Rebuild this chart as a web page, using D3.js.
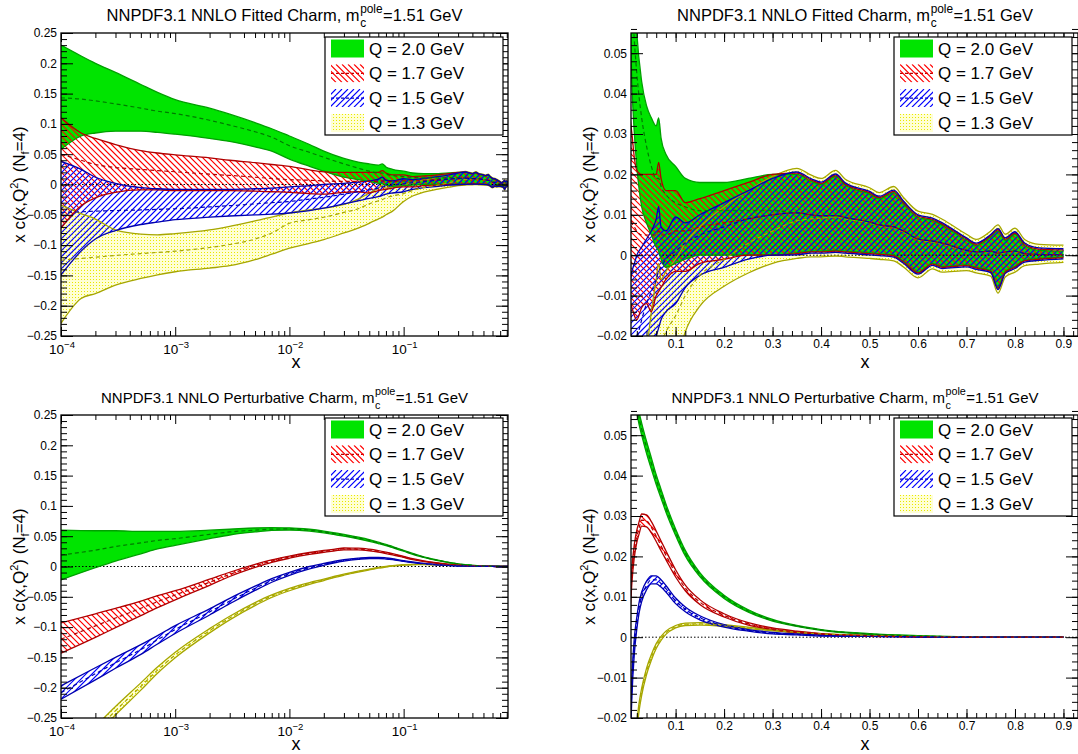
<!DOCTYPE html>
<html><head><meta charset="utf-8">
<script src="https://cdn.jsdelivr.net/npm/d3@7"></script>
<style>body{margin:0;background:#fff}svg text{font-family:"Liberation Sans",Arial,Helvetica,sans-serif;fill:#000}</style>
</head><body><svg id="c" width="1078" height="754"></svg>
<script>
// ---------------- DATA ----------------
const xFit = [1e-4,1.5e-4,2e-4,3e-4,5e-4,7e-4,1e-3,2e-3,3e-3,5e-3,7e-3,0.01,0.015,0.02,0.03,0.04,0.05,0.06,0.065,0.07,0.08,0.1,0.12,0.15,0.2,0.25,0.3,0.35,0.38,0.4,0.43,0.45,0.5,0.52,0.55,0.57,0.6,0.63,0.65,0.7,0.72,0.75,0.765,0.78,0.8,0.82,0.85,0.9];

const fitQ20hi = [0.230,0.212,0.200,0.185,0.165,0.152,0.140,0.126,0.116,0.102,0.092,0.080,0.066,0.055,0.043,0.037,0.034,0.032,0.034,0.029,0.025,0.022,0.019,0.018,0.018,0.019,0.020,0.0200,0.0183,0.0175,0.0195,0.0173,0.0152,0.0140,0.0155,0.0128,0.0094,0.0086,0.0074,0.0037,0.0024,0.0045,0.0060,0.0037,0.0052,0.0024,0.0012,0.0010];
const fitQ20c  = [0.143,0.141,0.138,0.133,0.126,0.121,0.117,0.106,0.098,0.087,0.078,0.064,0.053,0.045,0.034,0.027,0.022,0.019,0.019,0.017,0.015,0.013,0.012,0.011,0.011,0.011,0.011,0.0105,0.0100,0.0098,0.0098,0.0093,0.0082,0.0075,0.0070,0.0060,0.0040,0.0035,0.0030,0.0012,0.0008,0.0010,0.0005,0.0008,0.0010,0.0004,0.0002,0.0001];
const fitQ20lo = [0.058,0.080,0.085,0.088,0.088,0.086,0.083,0.076,0.071,0.062,0.055,0.042,0.030,0.022,0.012,0.008,0.005,0.002,0.001,-0.001,-0.003,-0.002,-0.001,0.000,0.000,0.000,0.000,0.0006,0.0010,0.0010,0.0012,0.0010,0.0006,0.0004,0.0000,-0.0015,-0.0042,-0.0020,-0.0028,-0.0024,-0.0030,-0.0038,-0.0080,-0.0040,-0.0028,-0.0012,-0.0008,-0.0004];

const fitQ17hi = [0.110,0.085,0.076,0.066,0.056,0.052,0.049,0.044,0.040,0.036,0.033,0.030,0.024,0.021,0.020,0.020,0.020,0.020,0.023,0.019,0.016,0.016,0.013,0.014,0.016,0.018,0.020,0.0203,0.0186,0.0178,0.0198,0.0176,0.0155,0.0143,0.0158,0.0131,0.0097,0.0089,0.0077,0.0040,0.0027,0.0048,0.0063,0.0040,0.0055,0.0027,0.0015,0.0013];
const fitQ17c  = [0.050,0.040,0.033,0.028,0.025,0.023,0.021,0.017,0.015,0.012,0.010,0.008,0.007,0.006,0.005,0.005,0.005,0.005,0.006,0.005,0.005,0.006,0.006,0.007,0.008,0.009,0.010,0.0105,0.0100,0.0098,0.0098,0.0093,0.0082,0.0075,0.0070,0.0060,0.0040,0.0035,0.0030,0.0012,0.0008,0.0010,0.0005,0.0008,0.0010,0.0004,0.0002,0.0001];
const fitQ17lo = [-0.072,-0.035,-0.022,-0.013,-0.009,-0.009,-0.010,-0.010,-0.010,-0.011,-0.012,-0.013,-0.015,-0.016,-0.013,-0.012,-0.014,-0.010,-0.009,-0.008,-0.006,-0.004,-0.004,-0.002,-0.001,0.000,0.000,0.0004,0.0008,0.0008,0.0010,0.0008,0.0004,0.0002,-0.0002,-0.0017,-0.0044,-0.0022,-0.0030,-0.0026,-0.0032,-0.0040,-0.0082,-0.0042,-0.0030,-0.0014,-0.0010,-0.0006];

const fitQ15hi = [0.038,0.025,0.012,0.002,-0.005,-0.007,-0.008,-0.008,-0.008,-0.007,-0.006,-0.004,-0.002,0.000,0.002,0.004,0.006,0.009,0.012,0.007,0.006,0.0095,0.008,0.010,0.013,0.016,0.019,0.0206,0.0189,0.0181,0.0201,0.0179,0.0158,0.0146,0.0161,0.0134,0.0100,0.0092,0.0080,0.0043,0.0030,0.0051,0.0066,0.0043,0.0058,0.0030,0.0018,0.0016];
const fitQ15c  = [-0.046,-0.045,-0.044,-0.043,-0.042,-0.041,-0.040,-0.037,-0.035,-0.032,-0.030,-0.028,-0.024,-0.021,-0.016,-0.012,-0.009,-0.006,-0.004,-0.003,-0.001,0.001,0.003,0.005,0.007,0.009,0.010,0.0105,0.0100,0.0098,0.0098,0.0093,0.0082,0.0075,0.0070,0.0060,0.0040,0.0035,0.0030,0.0012,0.0008,0.0010,0.0005,0.0008,0.0010,0.0004,0.0002,0.0001];
const fitQ15lo = [-0.149,-0.110,-0.090,-0.076,-0.066,-0.062,-0.058,-0.054,-0.052,-0.050,-0.049,-0.047,-0.043,-0.039,-0.032,-0.027,-0.023,-0.020,-0.018,-0.016,-0.014,-0.012,-0.008,-0.005,-0.003,-0.001,0.000,0.0001,0.0005,0.0005,0.0007,0.0005,0.0001,-0.0001,-0.0005,-0.0020,-0.0047,-0.0025,-0.0033,-0.0029,-0.0035,-0.0043,-0.0085,-0.0045,-0.0033,-0.0017,-0.0013,-0.0009];

const fitQ13hi = [-0.034,-0.048,-0.057,-0.075,-0.082,-0.083,-0.081,-0.075,-0.069,-0.060,-0.054,-0.047,-0.042,-0.039,-0.033,-0.024,-0.014,-0.006,-0.002,-0.006,-0.004,-0.001,0.003,0.007,0.012,0.016,0.0195,0.0215,0.0198,0.0190,0.0210,0.0188,0.0167,0.0155,0.0170,0.0143,0.0109,0.0101,0.0089,0.0052,0.0039,0.0060,0.0075,0.0052,0.0067,0.0039,0.0027,0.0025];
const fitQ13c  = [-0.125,-0.122,-0.120,-0.117,-0.114,-0.112,-0.110,-0.104,-0.099,-0.090,-0.080,-0.064,-0.058,-0.054,-0.046,-0.040,-0.032,-0.027,-0.025,-0.022,-0.019,-0.015,-0.010,-0.005,-0.001,0.003,0.006,0.0085,0.0090,0.0092,0.0095,0.0090,0.0080,0.0073,0.0068,0.0058,0.0038,0.0033,0.0028,0.0011,0.0007,0.0009,0.0004,0.0007,0.0009,0.0003,0.0002,0.0001];
const fitQ13lo = [-0.229,-0.188,-0.180,-0.166,-0.155,-0.149,-0.144,-0.138,-0.134,-0.124,-0.115,-0.105,-0.097,-0.091,-0.080,-0.072,-0.064,-0.057,-0.054,-0.050,-0.044,-0.028,-0.019,-0.0126,-0.0077,-0.0044,-0.0020,-0.0008,-0.0004,-0.0004,-0.0002,-0.0004,-0.0008,-0.0010,-0.0014,-0.0029,-0.0056,-0.0034,-0.0042,-0.0038,-0.0044,-0.0052,-0.0094,-0.0054,-0.0042,-0.0026,-0.0022,-0.0018];

const xPert = [1e-4,2e-4,3e-4,5e-4,7e-4,1e-3,2e-3,3e-3,5e-3,7e-3,0.01,0.015,0.02,0.025,0.03,0.04,0.05,0.06,0.07,0.08,0.1,0.12,0.15,0.2,0.25,0.3,0.35,0.4,0.5,0.6,0.7,0.8,0.9];

const pertQ20hi = [0.060,0.059,0.059,0.058,0.058,0.058,0.060,0.0615,0.0635,0.064,0.0638,0.0615,0.0585,0.0555,0.053,0.0485,0.0444,0.0402,0.0366,0.033,0.0268,0.0215,0.016,0.0104,0.0068,0.0044,0.0029,0.0019,0.0009,0.0004,0.0001,0.0,0.0];
const pertQ20c  = [0.019,0.027,0.033,0.039,0.043,0.046,0.053,0.057,0.060,0.0617,0.062,0.060,0.057,0.054,0.0515,0.047,0.043,0.039,0.0355,0.032,0.026,0.0208,0.0155,0.010,0.0065,0.0042,0.0028,0.0018,0.0008,0.0003,0.0001,0.0,0.0];
const pertQ20lo = [-0.022,-0.002,0.009,0.021,0.029,0.035,0.046,0.052,0.057,0.0595,0.0602,0.0585,0.0555,0.0525,0.050,0.0455,0.0416,0.0378,0.0344,0.031,0.0252,0.0201,0.015,0.0096,0.0062,0.0040,0.0027,0.0017,0.0007,0.0002,0.0,0.0,0.0];

const pertQ17hi = [-0.093,-0.078,-0.069,-0.057,-0.048,-0.040,-0.021,-0.0095,0.0035,0.011,0.0173,0.0231,0.0265,0.0287,0.0305,0.0303,0.0286,0.0263,0.0238,0.0214,0.0167,0.0129,0.0093,0.0058,0.0036,0.0023,0.0015,0.0009,0.0004,0.0001,0,0,0];
const pertQ17c  = [-0.120,-0.098,-0.085,-0.069,-0.058,-0.047,-0.026,-0.013,0.001,0.009,0.0155,0.0215,0.0250,0.0272,0.0290,0.0288,0.0272,0.0250,0.0226,0.0203,0.0158,0.0122,0.0087,0.0054,0.0033,0.0021,0.0013,0.0008,0.0003,0.0001,0,0,0];
const pertQ17lo = [-0.143,-0.117,-0.101,-0.081,-0.068,-0.055,-0.031,-0.0165,-0.0015,0.007,0.0137,0.0199,0.0235,0.0257,0.0275,0.0273,0.0258,0.0237,0.0214,0.0192,0.0149,0.0115,0.0081,0.0050,0.0030,0.0019,0.0011,0.0007,0.0002,0.0001,0,0,0];

const pertQ15hi = [-0.197,-0.167,-0.150,-0.129,-0.114,-0.0975,-0.070,-0.0525,-0.0325,-0.020,-0.0095,0.0,0.005,0.0088,0.0112,0.0139,0.0152,0.0152,0.0142,0.0128,0.0097,0.0075,0.0053,0.0031,0.0019,0.0012,0.0008,0.0005,0.0002,0.0001,0,0,0];
const pertQ15c  = [-0.208,-0.177,-0.159,-0.137,-0.121,-0.104,-0.075,-0.057,-0.036,-0.023,-0.012,-0.002,0.0035,0.0075,0.0100,0.0128,0.0142,0.0142,0.0133,0.0120,0.0090,0.0069,0.0048,0.0028,0.0017,0.0010,0.0007,0.0004,0.0002,0.0001,0,0,0];
const pertQ15lo = [-0.219,-0.187,-0.168,-0.145,-0.128,-0.1105,-0.080,-0.0615,-0.0395,-0.026,-0.0145,-0.004,0.002,0.0062,0.0088,0.0117,0.0132,0.0132,0.0124,0.0112,0.0083,0.0063,0.0043,0.0025,0.0015,0.0008,0.0006,0.0003,0.0002,0.0001,0,0,0];

const pertQ13hi = [-0.320,-0.264,-0.231,-0.192,-0.166,-0.1415,-0.1025,-0.082,-0.0595,-0.0468,-0.036,-0.0265,-0.0208,-0.016,-0.0126,-0.0077,-0.0043,-0.0016,0.0002,0.0015,0.0029,0.0035,0.0036,0.0031,0.0025,0.0018,0.0013,0.0009,0.0004,0.0002,0.0001,0,0];
const pertQ13c  = [-0.330,-0.272,-0.238,-0.198,-0.171,-0.146,-0.106,-0.085,-0.062,-0.049,-0.038,-0.028,-0.022,-0.017,-0.0135,-0.0085,-0.005,-0.0022,-0.0003,0.0011,0.0026,0.0032,0.0033,0.0029,0.0023,0.0017,0.0012,0.0008,0.0004,0.0002,0.0001,0,0];
const pertQ13lo = [-0.340,-0.280,-0.245,-0.204,-0.176,-0.1505,-0.1095,-0.088,-0.0645,-0.0512,-0.040,-0.0295,-0.0232,-0.018,-0.0144,-0.0093,-0.0057,-0.0028,-0.0008,0.0007,0.0023,0.0029,0.0030,0.0027,0.0021,0.0016,0.0011,0.0007,0.0004,0.0002,0.0001,0,0];

const legendLabels = ["Q = 2.0 GeV","Q = 1.7 GeV","Q = 1.5 GeV","Q = 1.3 GeV"];
const panelTitles = ["Fitted","Fitted","Perturbative","Perturbative"];
const yTicksWide = [-0.25,-0.2,-0.15,-0.1,-0.05,0,0.05,0.1,0.15,0.2,0.25];
const yTicksNarrow = [-0.02,-0.01,0,0.01,0.02,0.03,0.04,0.05];
const xTicksLog = [1e-4,1e-3,1e-2,1e-1];
const xTickLogExp = ["\u22124","\u22123","\u22122","\u22121"];
const xTicksLin = [0.1,0.2,0.3,0.4,0.5,0.6,0.7,0.8,0.9];

// ---------------- STYLE ----------------
const svg = d3.select("#c");
const defs = svg.append("defs");
const pd = defs.append("pattern").attr("id","dots").attr("patternUnits","userSpaceOnUse").attr("width",3).attr("height",3);
pd.append("rect").attr("width",3).attr("height",3).attr("fill","#ffffd4");
pd.append("rect").attr("width",1).attr("height",1).attr("fill","#e8e800");
let clipN = 0;
function hatchPath(x0,y0,x1,y1,step,back){
  const H = y1-y0; let d = "";
  const s0 = Math.floor((x0-H)/step)*step;
  for(let s=s0; s<=x1+H; s+=step){
    d += back ? `M${s},${y0}L${s+H},${y1}` : `M${s},${y1}L${s+H},${y0}`;
  }
  return d;
}
const styles = [
  {fill:"#00e400", hatch:null, line:"#00a000", dash:"#007a00"},
  {fill:"none", hatch:{color:"#ff0000", back:true}, line:"#b00000", dash:"#b00000"},
  {fill:"none", hatch:{color:"#0000ff", back:false}, line:"#0000b0", dash:"#0000b0"},
  {fill:"url(#dots)", hatch:null, line:"#a6a600", dash:"#a6a600"}
];
function fillShape(g, shapeD, st, box){
  if(st.fill!=="none") g.append("path").attr("d",shapeD).attr("fill",st.fill).attr("stroke","none");
  if(st.hatch){
    const id = "hc"+(clipN++);
    defs.append("clipPath").attr("id",id).append("path").attr("d",shapeD);
    g.append("path").attr("clip-path",`url(#${id})`).attr("d",hatchPath(box[0],box[1],box[2],box[3],6,st.hatch.back))
     .attr("stroke",st.hatch.color).attr("stroke-width",1.2).attr("fill","none");
  }
}
const fitSeries = [[fitQ20lo,fitQ20c,fitQ20hi],[fitQ17lo,fitQ17c,fitQ17hi],[fitQ15lo,fitQ15c,fitQ15hi],[fitQ13lo,fitQ13c,fitQ13hi]];
const pertSeries = [[pertQ20lo,pertQ20c,pertQ20hi],[pertQ17lo,pertQ17c,pertQ17hi],[pertQ15lo,pertQ15c,pertQ15hi],[pertQ13lo,pertQ13c,pertQ13hi]];

const panels = [
  {set:"fit", log:true,  x0:61,  x1:508,  y0:33,  y1:336, yDom:[-0.25,0.25], yT:yTicksWide, yMin:0.01, lx:325, ly:37, tx:284.5, ty:21, ts:16.5, ytx:25, xtx:296},
  {set:"fit", log:false, x0:631, x1:1078, y0:33,  y1:336, yDom:[-0.02,0.055], yT:yTicksNarrow, yMin:0.002, lx:894, ly:37, tx:855, ty:21, ts:16.5, ytx:595, xtx:865},
  {set:"pert",log:true,  x0:61,  x1:508,  y0:415, y1:718, yDom:[-0.25,0.25], yT:yTicksWide, yMin:0.01, lx:325, ly:418, tx:284.5, ty:403, ts:15, ytx:25, xtx:296},
  {set:"pert",log:false, x0:631, x1:1078, y0:415, y1:718, yDom:[-0.02,0.055], yT:yTicksNarrow, yMin:0.002, lx:894, ly:418, tx:855, ty:403, ts:15, ytx:595, xtx:865}
];

const fmtY = d => d===0 ? "0" : (d<0?"\u2212":"") + String(+Math.abs(d).toFixed(3));

function title(cx, yb, word, size){
  const t = svg.append("text").attr("y",yb).attr("font-size",size);
  const a = t.append("tspan").attr("x",0).attr("y",yb).text(`NNPDF3.1 NNLO ${word} Charm, m`);
  const aw = a.node().getComputedTextLength();
  const p = t.append("tspan").attr("x",aw+0.5).attr("y",yb-8).attr("font-size",size*0.72).text("pole");
  const pw = p.node().getComputedTextLength();
  t.append("tspan").attr("x",aw+0.5).attr("y",yb+6).attr("font-size",size*0.72).text("c");
  const r = t.append("tspan").attr("x",aw+pw+1).attr("y",yb).text("=1.51 GeV");
  const W = aw+pw+1+r.node().getComputedTextLength();
  t.attr("transform",`translate(${cx-W/2},0)`);
}

panels.forEach((P,pi)=>{
  const x = P.log ? d3.scaleLog().domain([1e-4,0.82]).range([P.x0,P.x1])
                  : d3.scaleLinear().domain([0.008,0.93]).range([P.x0,P.x1]);
  const y = d3.scaleLinear().domain(P.yDom).range([P.y1,P.y0]);
  const xs = P.set==="fit" ? xFit : xPert;
  const ser = P.set==="fit" ? fitSeries : pertSeries;
  const cid = "clip"+pi;
  defs.append("clipPath").attr("id",cid).append("rect").attr("x",P.x0).attr("y",P.y0).attr("width",P.x1-P.x0).attr("height",P.y1-P.y0);
  const g = svg.append("g").attr("clip-path",`url(#${cid})`);
  const rowsOf = s => xs.map((xv,j)=>({x:xv, lo:s[0][j], c:s[1][j], hi:s[2][j]}));
  const area = d3.area().x(d=>x(d.x)).y0(d=>y(d.lo)).y1(d=>y(d.hi)).curve(d3.curveMonotoneX);
  const line = k => d3.line().x(d=>x(d.x)).y(d=>y(d[k])).curve(d3.curveMonotoneX);
  const box = [P.x0,P.y0,P.x1,P.y1];
  [3,0,1,2].forEach(i=> fillShape(g, area(rowsOf(ser[i])), styles[i], box));
  g.append("line").attr("x1",P.x0).attr("x2",P.x1).attr("y1",y(0)).attr("y2",y(0)).attr("stroke","#000").attr("stroke-width",1).attr("stroke-dasharray","1.5,2");
  [3,0,1,2].forEach(i=>{
    const rows = rowsOf(ser[i]);
    ["lo","hi"].forEach(k=> g.append("path").attr("d",line(k)(rows)).attr("fill","none").attr("stroke",styles[i].line).attr("stroke-width",1.3));
  });
  [3,0,1,2].forEach(i=>{
    g.append("path").attr("d",line("c")(rowsOf(ser[i]))).attr("fill","none").attr("stroke",styles[i].dash).attr("stroke-width",1.2).attr("stroke-dasharray","4,3");
  });

  // axes
  const ax = svg.append("g").attr("font-size",12);
  const yMinor = d3.range(Math.round(P.yDom[0]/P.yMin), Math.round(P.yDom[1]/P.yMin)+1).map(k=>+(k*P.yMin).toFixed(4));
  const strip = sel => { sel.select(".domain").remove(); sel.attr("font-family",null).attr("font-size",null); sel.selectAll("line").attr("stroke","#000"); };
  ax.append("g").attr("transform",`translate(${P.x0},0)`).call(d3.axisLeft(y).tickValues(yMinor).tickSize(-6).tickFormat("")).call(strip);
  ax.append("g").attr("transform",`translate(${P.x0},0)`).call(d3.axisLeft(y).tickValues(P.yT).tickSize(-12).tickPadding(4).tickFormat(fmtY)).call(strip);
  ax.append("g").attr("transform",`translate(${P.x1},0)`).call(d3.axisRight(y).tickValues(yMinor).tickSize(-6).tickFormat("")).call(strip);
  ax.append("g").attr("transform",`translate(${P.x1},0)`).call(d3.axisRight(y).tickValues(P.yT).tickSize(-12).tickFormat("")).call(strip);
  let xMinor, xMajor;
  if(P.log){
    xMajor = xTicksLog;
    xMinor = [];
    xTicksLog.forEach(d=>{ for(let k=2;k<=9;k++){ const v=+(d*k).toPrecision(3); if(v<=0.82) xMinor.push(v);} });
  } else {
    xMajor = xTicksLin;
    xMinor = d3.range(1,47).map(k=>+(k*0.02).toFixed(2)).filter(v=>v>=0.008 && v<=0.93);
  }
  [[P.y1,d3.axisBottom],[P.y0,d3.axisTop]].forEach(([yy,fn],side)=>{
    ax.append("g").attr("transform",`translate(0,${yy})`).call(fn(x).tickValues(xMinor).tickSize(-5).tickFormat("")).call(strip);
    const maj = fn(x).tickValues(xMajor).tickSize(-9).tickPadding(3);
    if(side===0 && !P.log) maj.tickFormat(d3.format(".1f")); else maj.tickFormat("");
    ax.append("g").attr("transform",`translate(0,${yy})`).call(maj).call(strip);
  });
  if(P.log){
    xTicksLog.forEach((v,k)=>{
      const t = ax.append("text").attr("x",x(v)+1).attr("y",P.y1+18).attr("text-anchor","middle").attr("font-size",13.5);
      t.append("tspan").text("10");
      t.append("tspan").attr("dy",-6).attr("font-size",9.5).text(xTickLogExp[k]);
    });
  }
  ax.selectAll(".tick text").attr("fill","#000");
  svg.append("rect").attr("x",P.x0).attr("y",P.y0).attr("width",P.x1-P.x0).attr("height",P.y1-P.y0).attr("fill","none").attr("stroke","#000").attr("stroke-width",1.3);

  // titles
  title(P.tx, P.ty, panelTitles[pi], P.ts);
  const yt = svg.append("text").attr("transform",`translate(${P.ytx},${(P.y0+P.y1)/2}) rotate(-90)`).attr("text-anchor","middle").attr("font-size",17);
  yt.append("tspan").text("x c(x,Q");
  yt.append("tspan").attr("dy",-7).attr("font-size",11).text("2");
  yt.append("tspan").attr("dy",7).text(") (N");
  yt.append("tspan").attr("dy",4).attr("font-size",11).text("f");
  yt.append("tspan").attr("dy",-4).text("=4)");
  svg.append("text").attr("x",P.xtx).attr("y",P.y1+32).attr("text-anchor","middle").attr("font-size",18).text("x");

  // legend
  const lg = svg.append("g").attr("transform",`translate(${P.lx},${P.ly})`);
  lg.append("rect").attr("width",178).attr("height",98).attr("fill","#fff").attr("stroke","#000").attr("stroke-width",1.2);
  legendLabels.forEach((lab,i)=>{
    const cy = 11.5 + i*24.8;
    const sx = P.lx+6, sy = P.ly+cy-9;
    const rd = `M${sx},${sy}h33v18h-33Z`;
    fillShape(svg, rd, styles[i], [sx,sy,sx+33,sy+18]);
    lg.append("line").attr("x1",6).attr("x2",39).attr("y1",cy).attr("y2",cy).attr("stroke",styles[i].dash).attr("stroke-width",1.2).attr("stroke-dasharray","3,2");
    lg.append("text").attr("x",44).attr("y",cy+6).attr("font-size",17).text(lab);
  });
});
</script></body></html>
